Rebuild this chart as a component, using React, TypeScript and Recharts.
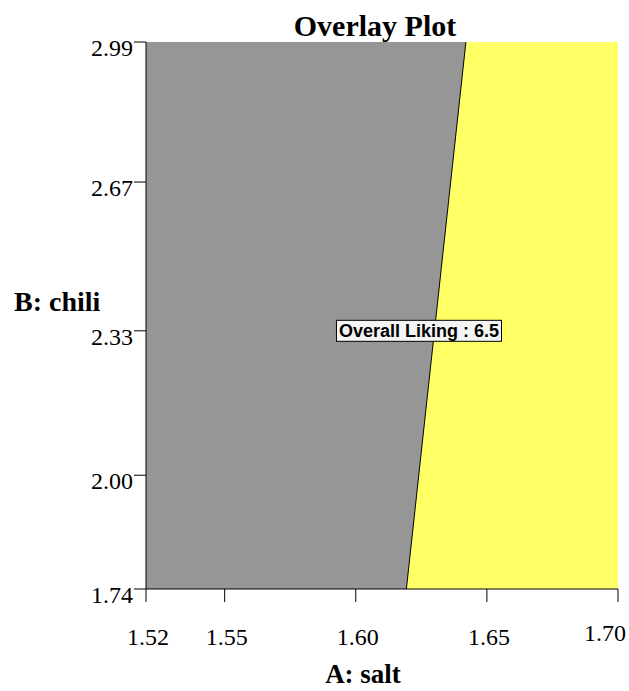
import { ComposedChart, Area, XAxis, YAxis, ReferenceLine, ReferenceDot } from 'recharts'

// A: salt grid across the plot, and the lower edge of the grey region at each point
const salt = [1.52, 1.6193, 1.642, 1.7]
const greyLow = [1.74, 1.74, 2.99, 2.99]
const chiliMin = 1.74
const chiliMax = 2.99

// contour "Overall Liking = 6.5"
const contourSalt = [1.6193, 1.642]
const contourChili = [1.74, 2.99]
const labelSalt = 1.6241
const labelChili = 2.33
const labelText = 'Overall Liking : 6.5'

const xTicks = [1.52, 1.55, 1.6, 1.65, 1.7]
const yTicks = [1.74, 2.0, 2.33, 2.67, 2.99]

const data = salt.map((s, i) => ({
  salt: s,
  yellow: [chiliMin, greyLow[i]],
  grey: [greyLow[i], chiliMax],
}))

const serif = '"Liberation Serif", "Times New Roman", serif'

const XTick = (props: any) => {
  const { x, y, payload, index } = props
  const last = index === xTicks.length - 1
  return (
    <text
      x={last ? x + 8 : x + 2}
      y={y + 41}
      textAnchor={last ? 'end' : 'middle'}
      fontFamily={serif}
      fontSize={24}
      fill="#000"
      dy={last ? -4 : 0}
    >
      {payload.value.toFixed(2)}
    </text>
  )
}

const YTick = (props: any) => {
  const { x, y, payload } = props
  return (
    <text x={x + 1} y={y + 14} textAnchor="end" fontFamily={serif} fontSize={24} fill="#000">
      {payload.value.toFixed(2)}
    </text>
  )
}

const LabelBox = (props: any) => {
  const { cx, cy } = props
  return (
    <g>
      <rect x={cx - 82.5} y={cy - 10.5} width={165} height={21} fill="#f4f4f4" stroke="#000" strokeWidth={1} />
      <text
        x={cx}
        y={cy + 6.5}
        textAnchor="middle"
        fontFamily='"Liberation Sans", Arial, sans-serif'
        fontWeight="bold"
        fontSize={18}
        fill="#000"
      >
        {labelText}
      </text>
    </g>
  )
}

export default function App() {
  return (
    <div style={{ position: 'absolute', left: 0, top: 0, background: '#fff' }}>
      <ComposedChart width={629} height={691} data={data} margin={{ top: 42, right: 11, bottom: 42, left: 0 }}>
        <Area
          type="linear"
          dataKey="yellow"
          fill="#ffff66"
          fillOpacity={1}
          stroke="none"
          isAnimationActive={false}
        />
        <Area
          type="linear"
          dataKey="grey"
          fill="#969696"
          fillOpacity={1}
          stroke="none"
          isAnimationActive={false}
        />
        <ReferenceLine
          segment={[
            { x: contourSalt[0], y: contourChili[0] },
            { x: contourSalt[1], y: contourChili[1] },
          ]}
          stroke="#000"
          strokeWidth={1}
        />
        <ReferenceDot x={labelSalt} y={labelChili} r={0} shape={LabelBox} />
        <XAxis
          dataKey="salt"
          type="number"
          domain={[1.52, 1.7]}
          ticks={xTicks}
          tickSize={13}
          height={60}
          axisLine={{ stroke: '#000' }}
          tickLine={{ stroke: '#000' }}
          tick={XTick}
        />
        <XAxis
          xAxisId="top"
          orientation="top"
          dataKey="salt"
          type="number"
          domain={[1.52, 1.7]}
          ticks={[1.52]}
          tickSize={10}
          height={0}
          axisLine={{ stroke: '#555' }}
          tickLine={{ stroke: '#000' }}
          tick={false}
        />
        <YAxis
          type="number"
          domain={[chiliMin, chiliMax]}
          ticks={yTicks}
          tickSize={12}
          width={146}
          axisLine={{ stroke: '#000' }}
          tickLine={{ stroke: '#000' }}
          tick={YTick}
        />
        <YAxis
          yAxisId="right"
          orientation="right"
          type="number"
          domain={[chiliMin, chiliMax]}
          width={0}
          tick={false}
          tickLine={false}
          axisLine={{ stroke: '#000' }}
        />
        <text x={375} y={36} textAnchor="middle" fontFamily={serif} fontWeight="bold" fontSize={30} fill="#000">
          Overlay Plot
        </text>
        <text x={14} y={311} fontFamily={serif} fontWeight="bold" fontSize={28} fill="#000">
          B: chili
        </text>
        <text x={363} y={683} textAnchor="middle" fontFamily={serif} fontWeight="bold" fontSize={27} fill="#000">
          A: salt
        </text>
      </ComposedChart>
    </div>
  )
}
